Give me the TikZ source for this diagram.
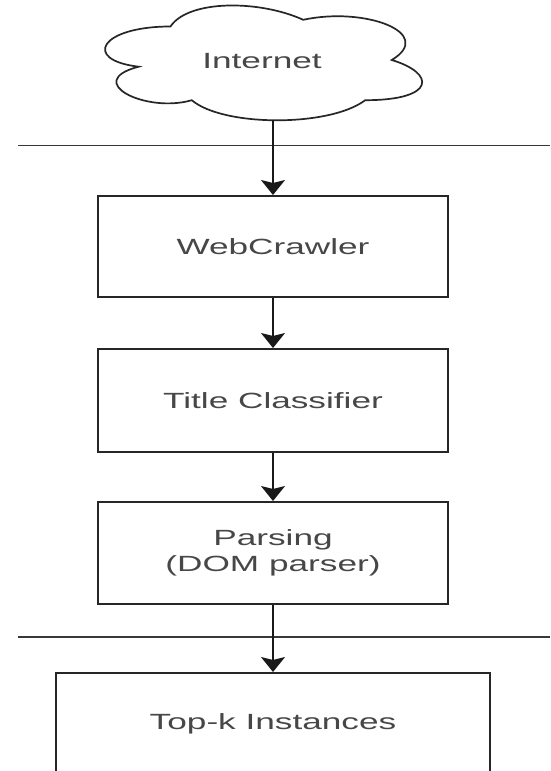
\documentclass[tikz,border=0pt]{standalone}
\usepackage{fontspec}
\setmainfont{Liberation Sans}
% wide sans face used for every label
\newfontfamily\labelfont[FakeStretch=1.6]{Liberation Sans}
\usetikzlibrary{arrows.meta}

\tikzset{
  stroke/.style={draw=black!85, line width=2pt},
  stagebox/.style={stroke, rectangle, fill=white, minimum width=350pt,
    text=black!72, font=\labelfont\fontsize{22}{26}\selectfont, align=center},
  labeltext/.style={text=black!72, font=\labelfont\fontsize{22}{26}\selectfont},
  flow/.style={draw=black!90, line width=1.8pt,
    -{Stealth[width=24pt,length=15pt,inset=3pt]}},
  rule/.style={draw=black!78, line width=1.6pt},
}

\begin{document}
\begin{tikzpicture}[x=1pt,y=-1pt]
\useasboundingbox (0,0) rectangle (550,771);
\fill[white] (0,0) rectangle (550,771);

% cloud outline
\begin{scope}[shift={(82,-7)}, x=354pt, y=-134pt]
  \draw[stroke, line width=1.7pt, fill=white]
    (0.25,0.25) .. controls (0.05,0.25) and (0,0.5) .. (0.16,0.55)
    .. controls (0,0.66) and (0.18,0.9) .. (0.31,0.8)
    .. controls (0.4,1) and (0.7,1) .. (0.8,0.8)
    .. controls (1,0.8) and (1,0.6) .. (0.875,0.5)
    .. controls (1,0.3) and (0.8,0.1) .. (0.625,0.2)
    .. controls (0.5,0.05) and (0.3,0.05) .. (0.25,0.25) -- cycle;
\end{scope}
\node[labeltext] (net) at (262,61) {Internet};
\coordinate (netbottom) at (273,120);

% separator rules
\coordinate (ruleAl) at (18,145.5);
\coordinate (ruleAr) at (550,145.5);
\coordinate (ruleBl) at (18,637);
\coordinate (ruleBr) at (550,637);
\draw[rule] (ruleAl) -- (ruleAr);
\draw[rule] (ruleBl) -- (ruleBr);

% processing stages
\node[stagebox, minimum height=101pt] (crawl) at (273,246.5) {WebCrawler};
\node[stagebox, minimum height=103pt] (classify) at (273,400.5) {Title Classifier};
\node[stagebox, minimum height=102pt] (parse) at (273,553) {Parsing\\(DOM parser)};
\node[stagebox, minimum width=434pt, minimum height=102pt, anchor=north]
  (topk) at (273,672) {Top-k Instances};

% flow arrows
\draw[flow] (netbottom) -- (crawl.north);
\draw[flow] (crawl) -- (classify);
\draw[flow] (classify) -- (parse);
\draw[flow] (parse) -- (topk);
\end{tikzpicture}
\end{document}
